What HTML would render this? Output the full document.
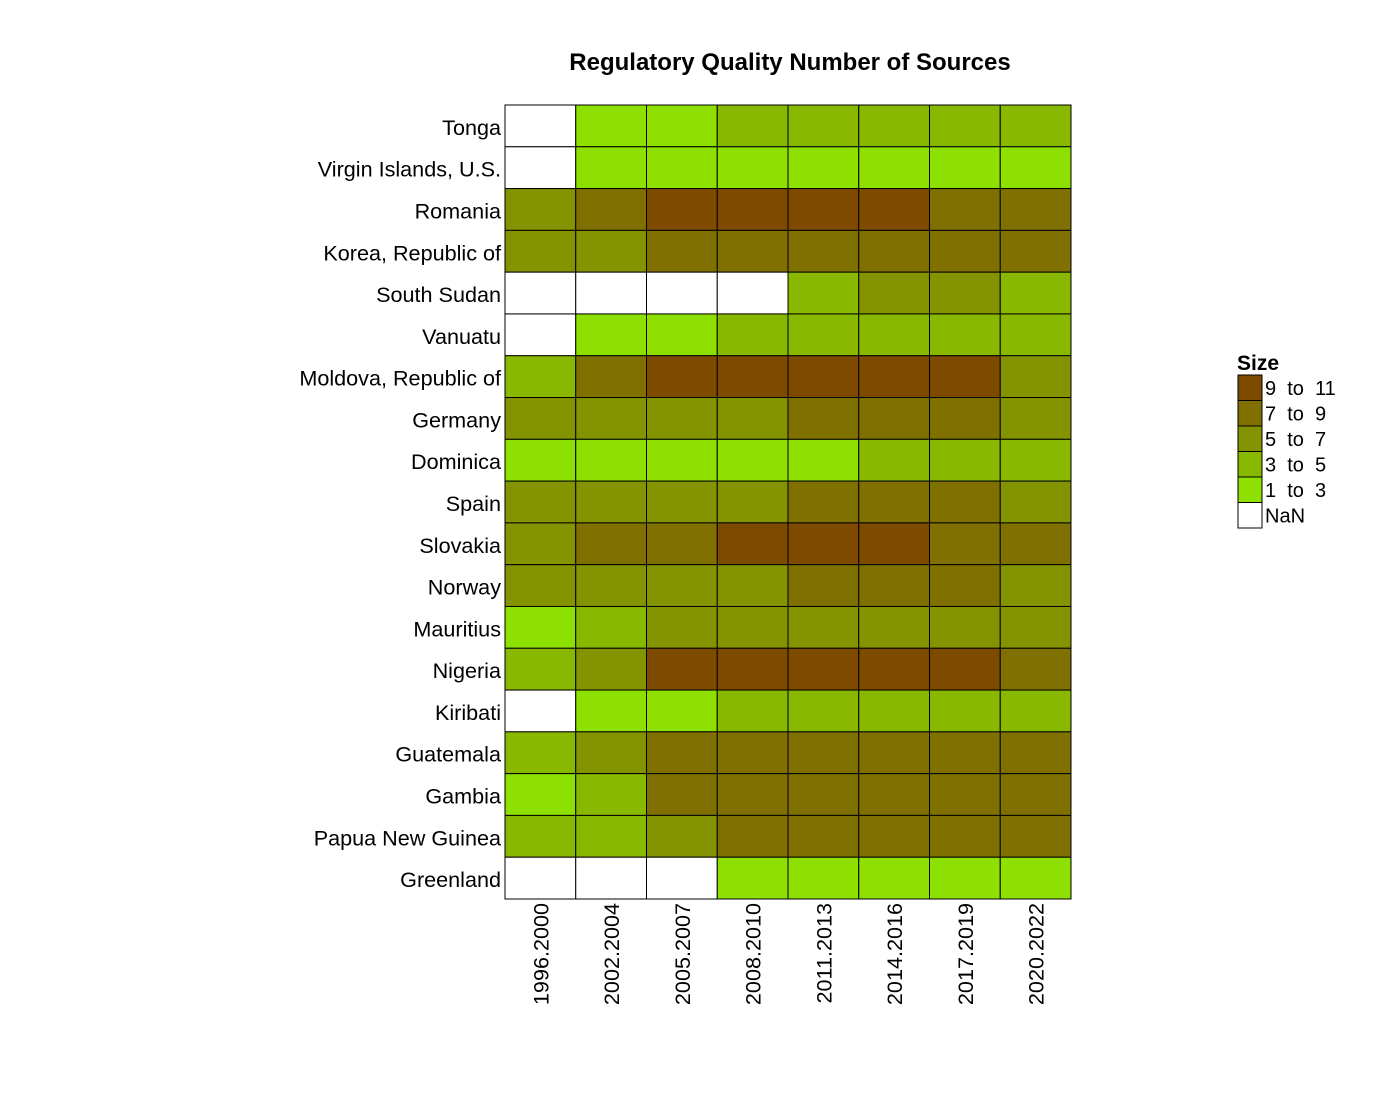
<!DOCTYPE html>
<html><head><meta charset="utf-8"><style>
body{margin:0;background:#fff;}
svg text{font-family:"Liberation Sans",Arial,sans-serif;}
</style></head><body>
<svg width="1400" height="1100" xmlns="http://www.w3.org/2000/svg">
<rect width="1400" height="1100" fill="#fff"/>
<text x="790" y="70" text-anchor="middle" font-size="24" font-weight="bold">Regulatory Quality Number of Sources</text>
<g id="cells"></g>
<g id="ylab"></g>
<g id="xlab"></g>
<g id="legend"></g>
</svg>
<script>
const countries=["Tonga","Virgin Islands, U.S.","Romania","Korea, Republic of","South Sudan","Vanuatu","Moldova, Republic of","Germany","Dominica","Spain","Slovakia","Norway","Mauritius","Nigeria","Kiribati","Guatemala","Gambia","Papua New Guinea","Greenland"];
const periods=["1996.2000","2002.2004","2005.2007","2008.2010","2011.2013","2014.2016","2017.2019","2020.2022"];
const values=[
[NaN,2,2,4,4,4,4,4],
[NaN,2,2,2,2,2,2,2],
[6,8,10,10,10,10,8,8],
[6,6,8,8,8,8,8,8],
[NaN,NaN,NaN,NaN,4,6,6,4],
[NaN,2,2,4,4,4,4,4],
[4,8,10,10,10,10,10,6],
[6,6,6,6,8,8,8,6],
[2,2,2,2,2,4,4,4],
[6,6,6,6,8,8,8,6],
[6,8,8,10,10,10,8,8],
[6,6,6,6,8,8,8,6],
[2,4,6,6,6,6,6,6],
[4,6,10,10,10,10,10,8],
[NaN,2,2,4,4,4,4,4],
[4,6,8,8,8,8,8,8],
[2,4,8,8,8,8,8,8],
[4,4,6,8,8,8,8,8],
[NaN,NaN,NaN,2,2,2,2,2]];
const legendLabels=["9  to  11","7  to  9","5  to  7","3  to  5","1  to  3","NaN"];
const colors=["#8ee000","#88b800","#849400","#7f7000","#7e4a00"];
const NS="http://www.w3.org/2000/svg";
const x0=505,x1=1071,y0=105,y1=899;
const cw=(x1-x0)/periods.length, ch=(y1-y0)/countries.length;
function xPos(i){return x0+i*cw;}
function yPos(j){return y0+j*ch;}
function colorOf(v){if(isNaN(v))return "#ffffff";let k=Math.min(4,Math.max(0,Math.floor((v-1)/2)));return colors[k];}
function mk(t,a){const e=document.createElementNS(NS,t);for(const k in a)e.setAttribute(k,a[k]);return e;}
const cells=document.getElementById('cells');
values.forEach((row,j)=>row.forEach((v,i)=>{
 const r=mk('rect',{x:xPos(i),y:yPos(j),width:cw,height:ch,fill:colorOf(v),stroke:'#000','stroke-width':1});
 
 
 cells.appendChild(r);
}));
const yl=document.getElementById('ylab');
countries.forEach((c,j)=>{
 const t=mk('text',{x:x0-4,y:yPos(j)+ch/2+9,'text-anchor':'end','font-size':21.6});
 t.textContent=c;
 
 
 yl.appendChild(t);
});
const xl=document.getElementById('xlab');
periods.forEach((p,i)=>{
 const cx=xPos(i)+cw/2+8;
 const t=mk('text',{x:cx,y:903,'text-anchor':'end','font-size':21.6,transform:'rotate(-90 '+cx+' 903)'});
 t.textContent=p;
 
 
 xl.appendChild(t);
});
const lg=document.getElementById('legend');
const tt=mk('text',{x:1237,y:370,'font-size':21,'font-weight':'bold'});
tt.textContent="Size";


lg.appendChild(tt);
const lcol=[colors[4],colors[3],colors[2],colors[1],colors[0],"#ffffff"];
legendLabels.forEach((l,k)=>{
 const y=375+k*25.5;
 const r=mk('rect',{x:1238,y:y,width:24,height:25.5,fill:lcol[k],stroke:'#000','stroke-width':1});
 
 
 lg.appendChild(r);
 const t=mk('text',{x:1265,y:y+20,'font-size':20});
 t.setAttribute('style','white-space:pre');
 t.textContent=l;
 
 
 lg.appendChild(t);
});
</script>
</body></html>
